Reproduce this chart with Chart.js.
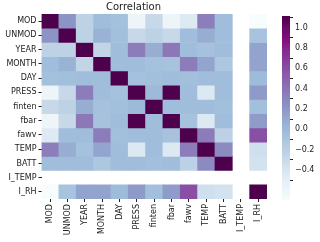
<!DOCTYPE html>
<html>
<head>
    <meta charset="UTF-8">
    <title>Correlation</title>
    <script src="https://cdn.jsdelivr.net/npm/chart.js"></script>
    <style>
        html, body { margin: 0; padding: 0; background: #fff; }
        #wrap { position: relative; width: 320px; height: 242px; overflow: hidden; }
        #heat { position: absolute; left: 0; top: 0; }
        #cbar { position: absolute; left: 272px; top: 0; }
    </style>
</head>
<body>
<div id="wrap">
    <canvas id="heat" width="272" height="242"></canvas>
    <canvas id="cbar" width="48" height="242"></canvas>
</div>
<script>
    // variable names (rows top to bottom, columns left to right)
    const vars = ["MOD", "UNMOD", "YEAR", "MONTH", "DAY", "PRESS", "finten", "fbar", "fawv", "TEMP", "BATT", "I_TEMP", "I_RH"];

    // correlation rows (null = NaN, left blank)
    const rMOD    = [1, 0.22, -0.18, 0.0, -0.02, -0.49, -0.23, -0.49, -0.37, 0.32, 0.0, null, -0.58];
    const rUNMOD  = [0.22, 1, -0.18, 0.06, -0.01, -0.23, -0.18, -0.23, 0.0, 0.09, 0.0, null, -0.05];
    const rYEAR   = [-0.18, -0.18, 1, -0.2, 0.0, 0.33, 0.09, 0.35, 0.0, -0.03, 0.0, null, 0.14];
    const rMONTH  = [0.0, 0.06, -0.2, 1, 0.0, 0.0, -0.03, -0.04, 0.33, 0.13, -0.08, null, 0.14];
    const rDAY    = [-0.02, -0.01, 0.0, 0.0, 1, -0.03, -0.01, 0.0, -0.01, 0.0, 0.0, null, 0.01];
    const rPRESS  = [-0.49, -0.23, 0.33, 0.0, -0.03, 1, 0.02, 0.99, 0.0, -0.36, 0.0, null, 0.19];
    const rFINTEN = [-0.23, -0.18, 0.09, -0.03, -0.01, 0.02, 1, 0.0, 0.0, 0.0, -0.01, null, -0.01];
    const rFBAR   = [-0.49, -0.23, 0.35, -0.04, 0.0, 0.99, 0.0, 1, -0.04, -0.36, 0.0, null, 0.18];
    const rFAWV   = [-0.37, 0.0, 0.0, 0.33, -0.01, 0.0, 0.0, -0.04, 1, 0.33, -0.17, null, 0.54];
    const rTEMP   = [0.32, 0.09, -0.03, 0.13, 0.0, -0.36, 0.0, -0.36, 0.33, 1, 0.26, null, -0.28];
    const rBATT   = [0.0, 0.0, 0.0, -0.08, 0.0, 0.0, -0.01, 0.0, -0.17, 0.26, 1, null, -0.3];
    const rITEMP  = [null, null, null, null, null, null, null, null, null, null, null, null, null];
    const rIRH    = [-0.58, -0.05, 0.14, 0.14, 0.01, 0.19, -0.01, 0.18, 0.54, -0.28, -0.3, null, 1];

    // colorbar tick labels
    const cbTicks = [-0.4, -0.2, 0.0, 0.2, 0.4, 0.6, 0.8, 1.0];

    const corr = [rMOD, rUNMOD, rYEAR, rMONTH, rDAY, rPRESS, rFINTEN, rFBAR, rFAWV, rTEMP, rBATT, rITEMP, rIRH];
    const all = corr.flat().filter(v => v !== null);
    const vmin = Math.min(...all);
    const vmax = Math.max(...all);

    // BuPu colormap stops
    const bupu = ["#f7fcfd", "#e0ecf4", "#bfd3e6", "#9ebcda", "#8c96c6", "#8c6bb1", "#88419d", "#810f7c", "#4d004b"];
    const stops = bupu.map(h => [1, 3, 5].map(i => parseInt(h.substr(i, 2), 16)));

    function colorFor(v) {
        if (v === null) return "rgba(0,0,0,0)";
        let f = (v - vmin) / (vmax - vmin);
        f = Math.max(0, Math.min(1, f)) * (stops.length - 1);
        const i = Math.min(Math.floor(f), stops.length - 2);
        const t = f - i;
        const c = stops[i].map((a, k) => Math.round(a + (stops[i + 1][k] - a) * t));
        return `rgb(${c[0]},${c[1]},${c[2]})`;
    }

    const textColor = "#222";
    const font = { family: "DejaVu Sans", size: 8 };

    // heatmap: one floating bar dataset per row
    const rowSets = corr.map((row, r) => ({
        label: vars[r],
        data: row.map(() => [r, r + 1]),
        backgroundColor: row.map(colorFor),
        borderWidth: 0,
        grouped: false,
        barPercentage: 1,
        categoryPercentage: 1
    }));

    new Chart(document.getElementById("heat"), {
        type: "bar",
        data: { labels: vars, datasets: rowSets },
        options: {
            responsive: false,
            animation: false,
            layout: { padding: { left: 0, right: 5, top: 0, bottom: 0 } },
            plugins: {
                legend: { display: false },
                tooltip: { enabled: false },
                title: {
                    display: true,
                    text: "Correlation",
                    color: textColor,
                    font: { family: "DejaVu Sans", size: 10, weight: "normal" },
                    padding: { top: 1, bottom: 1 }
                }
            },
            scales: {
                x: {
                    offset: true,
                    grid: { offset: false, drawOnChartArea: false, tickLength: 3, tickColor: textColor },
                    border: { display: false },
                    ticks: { color: textColor, font: font, minRotation: 90, maxRotation: 90, padding: 2, autoSkip: false },
                    afterFit: s => { s.height = 43; }
                },
                y: {
                    display: false,
                    min: 0,
                    max: 13,
                    reverse: true
                },
                yl: {
                    type: "category",
                    labels: vars,
                    position: "left",
                    offset: true,
                    grid: { offset: false, drawOnChartArea: false, tickLength: 3, tickColor: textColor },
                    border: { display: false },
                    ticks: { color: textColor, font: font, padding: 2, autoSkip: false },
                    afterFit: s => { s.width = 41.5; }
                }
            }
        }
    });

    // colorbar: thin horizontal strips stacked from vmin to vmax
    const nSteps = 96;
    const stepVals = [];
    for (let i = nSteps - 1; i >= 0; i--) stepVals.push(vmin + (i + 0.5) * (vmax - vmin) / nSteps);

    new Chart(document.getElementById("cbar"), {
        type: "bar",
        data: {
            labels: stepVals,
            datasets: [{
                data: stepVals.map(() => [0, 1]),
                backgroundColor: stepVals.map(colorFor),
                borderWidth: 0,
                barPercentage: 1,
                categoryPercentage: 1
            }]
        },
        options: {
            indexAxis: "y",
            responsive: false,
            animation: false,
            layout: { padding: { left: 10, right: 0, top: 16, bottom: 42 } },
            plugins: { legend: { display: false }, tooltip: { enabled: false } },
            scales: {
                x: { display: false, min: 0, max: 1 },
                y: { display: false },
                cb: {
                    type: "linear",
                    axis: "y",
                    position: "right",
                    min: vmin,
                    max: vmax,
                    afterBuildTicks: s => { s.ticks = cbTicks.map(v => ({ value: v })); },
                    grid: { drawOnChartArea: false, tickLength: 3, tickColor: textColor },
                    border: { display: false },
                    ticks: {
                        color: textColor,
                        font: font,
                        padding: 2,
                        callback: v => v.toFixed(1).replace("-", "\u2212")
                    },
                    afterFit: s => { s.width = 30; }
                }
            }
        }
    });
</script>
</body>
</html>
